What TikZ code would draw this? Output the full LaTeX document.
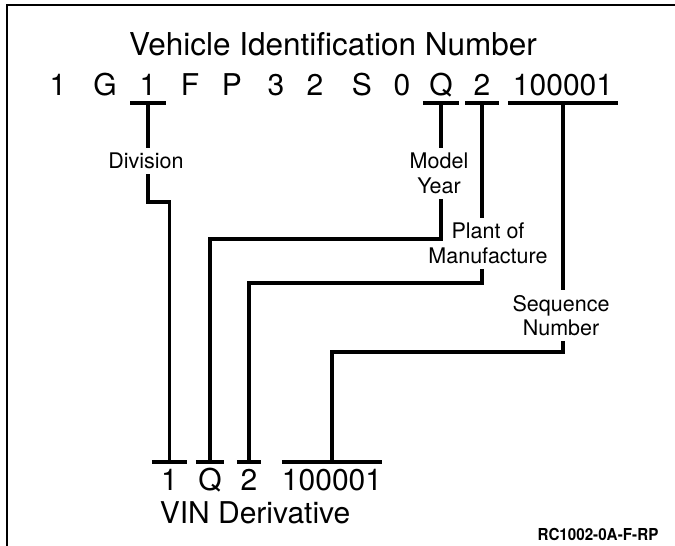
\documentclass[tikz,border=0pt]{standalone}
\usepackage{fontspec}
\setmainfont{TeX Gyre Heros}
\usetikzlibrary{positioning,calc}
\tikzset{
  vinchar/.style={inner sep=0pt, font=\fontsize{30}{36}\selectfont},
  topchar/.style={vinchar, anchor=south, text height=21pt, text depth=7pt, minimum width=#1},
  topchar/.default=20pt,
  botchar/.style={vinchar, anchor=north, text height=28pt, text depth=0pt, minimum width=#1},
  fieldlabel/.style={anchor=north, align=center, inner xsep=0pt, inner ysep=5pt, font=\fontsize{21.5}{24.5}\selectfont},
  leader/.style={line width=3.2pt},
  bar/.style={line width=3.2pt},
  codetag/.style={anchor=base, inner sep=0pt, xscale=0.92, font=\bfseries\fontsize{16.5}{18}\selectfont}
}

\begin{document}
\begin{tikzpicture}[x=1pt, y=-1pt]
  \useasboundingbox (0,0) rectangle (675,546);
  \draw[line width=2.6pt] (675,5) -- (7,5) -- (7,546);

  % full number
  \node[vinchar, anchor=base, font=\fontsize{31.5}{36}\selectfont] (title) at (333,55) {Vehicle Identification Number};
  \node[topchar] (c1) at (58,103) {1};
  \node[topchar] (cg) at (105,103) {G};
  \node[topchar=35pt] (div) at (148,103) {1};
  \node[topchar] (cf) at (190,103) {F};
  \node[topchar] (cp) at (232,103) {P};
  \node[topchar] (c3) at (276,103) {3};
  \node[topchar] (c2) at (315,103) {2};
  \node[topchar] (cs) at (362,103) {S};
  \node[topchar] (c0) at (402,103) {0};
  \node[topchar=36pt] (yr) at (441,103) {Q};
  \node[topchar=33pt] (pl) at (482,103) {2};
  \node[topchar=110pt] (seq) at (563,103) {100001};

  % field names
  \node[fieldlabel] (division) at (146,148) {Division};
  \node[fieldlabel] (model) at (439,148) {Model\\Year};
  \node[fieldlabel] (plant) at (488,218) {Plant of\\Manufacture};
  \node[fieldlabel] (sequence) at (561,290) {Sequence\\Number};

  % derivative
  \node[botchar=35pt] (d1) at (169.5,462) {1};
  \node[botchar=28pt] (dq) at (210,462) {Q};
  \node[botchar=24pt] (d2) at (249,462) {2};
  \node[botchar=100pt] (dseq) at (332,462) {100001};
  \node[vinchar, anchor=base] (deriv) at (255,523) {VIN Derivative};
  \node[codetag] (code) at (598,540) {RC1002-0A-F-RP};

  \foreach \n in {div,yr,pl,seq}
    \draw[bar] (\n.south west) -- (\n.south east);
  \foreach \n in {d1,dq,d2,dseq}
    \draw[bar] (\n.north west) -- (\n.north east);

  \draw[leader] (div.south) -- (div.south |- division.north);
  \draw[leader] (div.south |- division.south) -- (div.south |- 0,202) -| (d1.north);
  \draw[leader] (yr.south) -- (yr.south |- model.north);
  \draw[leader] (yr.south |- model.south) -- (yr.south |- 0,239) -| (dq.north);
  \draw[leader] (pl.south) -- (pl.south |- plant.north);
  \draw[leader] (pl.south |- plant.south) -- (pl.south |- 0,283) -| (d2.north);
  \draw[leader] (seq.south) -- (seq.south |- sequence.north);
  \draw[leader] (seq.south |- sequence.south) -- (seq.south |- 0,352) -| (dseq.north);
\end{tikzpicture}
\end{document}
